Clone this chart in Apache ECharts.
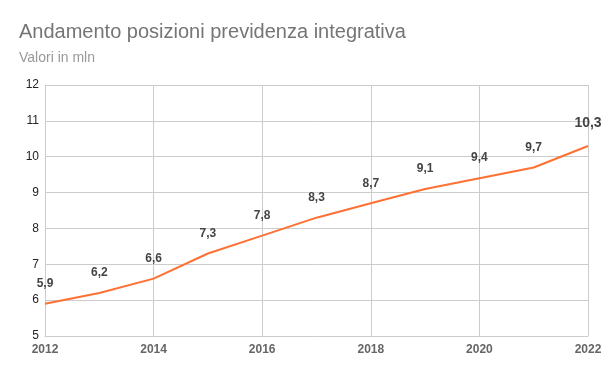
<!DOCTYPE html>
<html>
<head>
<meta charset="utf-8">
<script src="https://cdn.jsdelivr.net/npm/echarts@6/dist/echarts.min.js"></script>
<style>
  html, body { margin: 0; padding: 0; background: #fff; }
  #chart { width: 607px; height: 375px; }
</style>
</head>
<body>
<div id="chart"></div>
<script>
// dati
var years = [2012, 2013, 2014, 2015, 2016, 2017, 2018, 2019, 2020, 2021, 2022]
var posizioni = [5.9, 6.2, 6.6, 7.3, 7.8, 8.3, 8.7, 9.1, 9.4, 9.7, 10.3]

var chart = echarts.init(document.getElementById('chart'))

var seriesData = years.map(function (y, i) {
  var item = { value: [y, posizioni[i]] }
  // ultimo valore evidenziato
  if (i === years.length - 1) {
    item.label = { fontSize: 14, distance: 16 }
  }
  return item
})

chart.setOption({
  animation: false,
  title: {
    text: 'Andamento posizioni previdenza integrativa',
    subtext: 'Valori in mln',
    left: 14,
    top: 17,
    itemGap: 9,
    textStyle: {
      fontFamily: 'Arial, Liberation Sans, sans-serif',
      fontSize: 20,
      fontWeight: 'normal',
      color: '#757575'
    },
    subtextStyle: {
      fontFamily: 'Arial, Liberation Sans, sans-serif',
      fontSize: 14,
      color: '#999'
    }
  },
  grid: {
    left: 45,
    right: 19,
    top: 85,
    bottom: 39
  },
  xAxis: {
    type: 'value',
    min: 2012,
    max: 2022,
    interval: 2,
    axisLine: { show: true, lineStyle: { color: '#ccc' } },
    axisTick: { show: false },
    splitLine: { show: true, lineStyle: { color: '#ccc' } },
    axisLabel: {
      color: '#666',
      fontWeight: 'bold',
      fontSize: 12,
      fontFamily: 'Arial, Liberation Sans, sans-serif',
      margin: 8,
      formatter: function (v) { return String(v) }
    }
  },
  yAxis: {
    type: 'value',
    min: 5,
    max: 12,
    interval: 1,
    axisLine: { show: false },
    axisTick: { show: false },
    splitLine: { lineStyle: { color: '#ccc' } },
    axisLabel: {
      color: '#222',
      fontSize: 12,
      fontFamily: 'Arial, Liberation Sans, sans-serif',
      margin: 6
    }
  },
  series: [
    {
      type: 'line',
      data: seriesData,
      showSymbol: true,
      showAllSymbol: true,
      symbol: 'circle',
      symbolSize: 0.1,
      lineStyle: { color: '#ff7033', width: 2 },
      itemStyle: { color: '#ff7033' },
      labelLayout: { hideOverlap: false },
      label: {
        show: true,
        position: 'top',
        distance: 14,
        color: '#444',
        fontWeight: 'bold',
        fontSize: 12,
        fontFamily: 'Arial, Liberation Sans, sans-serif',
        formatter: function (p) {
          return String(p.value[1]).replace('.', ',')
        }
      }
    }
  ]
})
</script>
</body>
</html>
